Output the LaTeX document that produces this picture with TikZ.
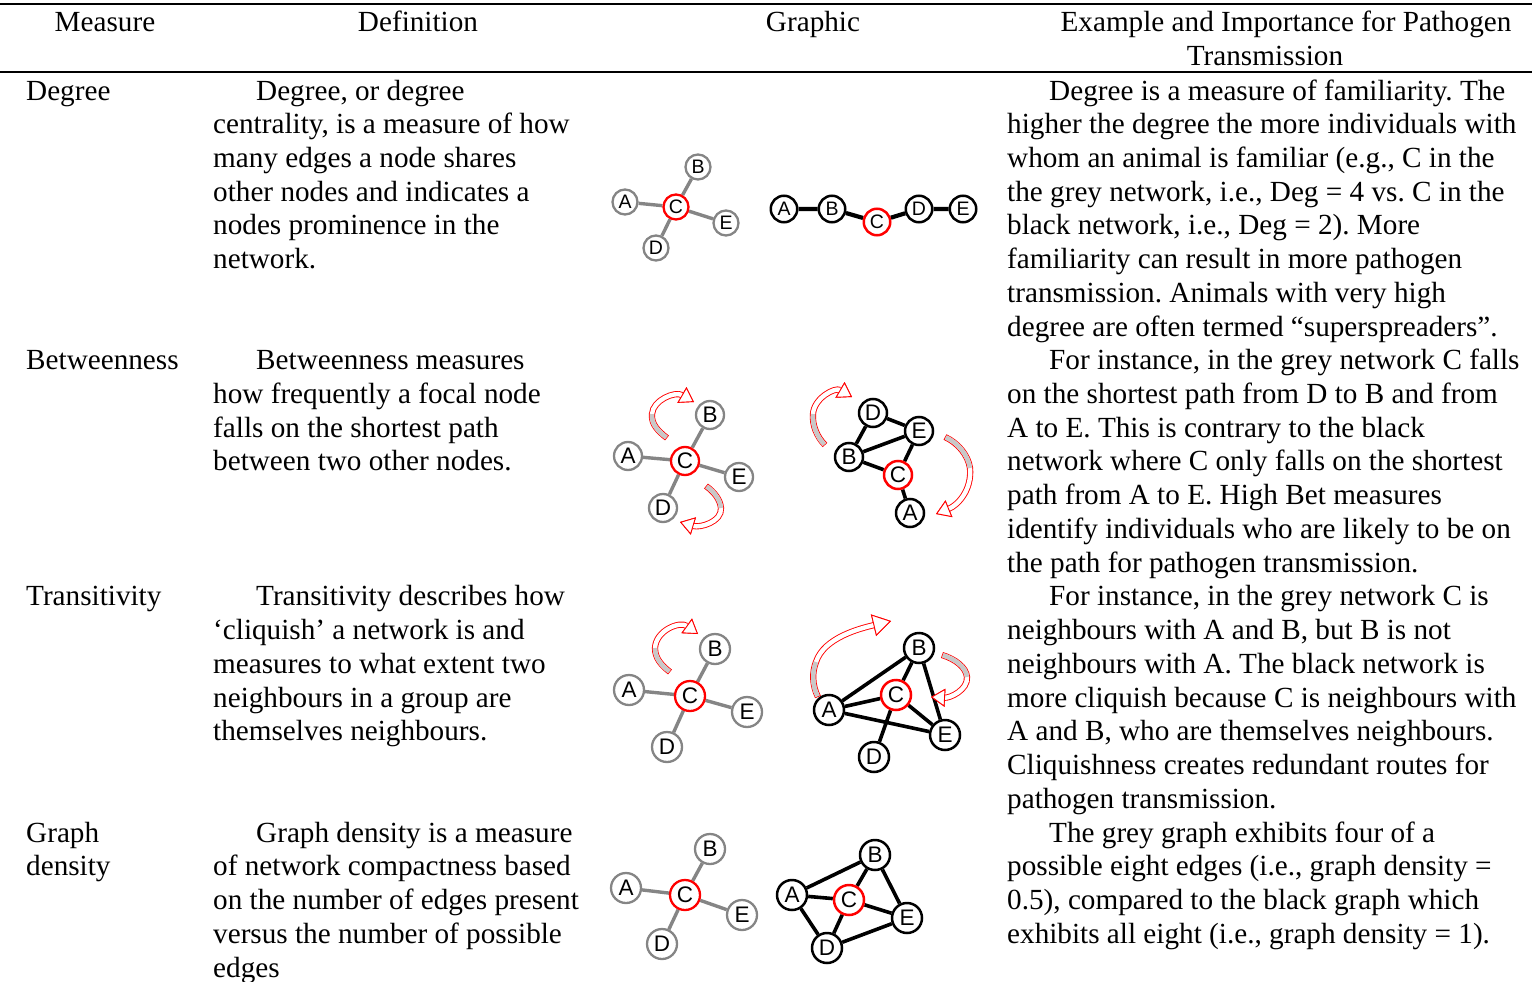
\documentclass[tikz,border=0pt]{standalone}
\usepackage{fontspec}
\setmainfont{Liberation Serif}
\newfontfamily\labelfont{Liberation Sans}
\usetikzlibrary{arrows.meta}
\definecolor{netgrey}{HTML}{858585}
\definecolor{tailgrey}{HTML}{C8C8C8}
\pgfdeclarelayer{edges}
\pgfsetlayers{edges,main}
\frenchspacing
\tikzset{
  body/.style={inner sep=0pt, font=\fontsize{29.2pt}{33.73pt}\selectfont},
  cell/.style={body, anchor=base west},
  head/.style={body, anchor=base},
  rule/.style={line width=2pt},
  vtx/.style={circle, fill=white, inner sep=0pt},
  gv/.style={vtx, draw=netgrey, line width=2.3pt},
  kv/.style={vtx, draw=black, line width=2.5pt},
  cv/.style={draw=red},
  ge/.style={netgrey, line width=3.4pt},
  ke/.style={black, line width=3.6pt},
  smallv/.style={minimum size=#1, font=\labelfont\fontsize{19.5pt}{19.5pt}\selectfont},
  largev/.style={minimum size=#1, font=\labelfont\fontsize{22.5pt}{22.5pt}\selectfont},
  headS/.tip={Triangle[length=14pt, width=18pt, fill=white, color=red, line width=0.9pt]},
  headL/.tip={Triangle[length=18pt, width=22pt, fill=white, color=red, line width=0.9pt]},
  bandout/.style={red, line width=6.2pt},
  bandin/.style={white, line width=4.4pt, shorten <=0.9pt},
  bandtail/.style={tailgrey, line width=4.4pt, shorten <=0.9pt},
}
\newcommand\linebox[1]{\parbox[t]{620pt}{#1}}
\begin{document}
\begin{tikzpicture}[x=1pt, y=-1pt]
\useasboundingbox (0,0) rectangle (1532,982);

% ---------- rules ----------
\coordinate (r1l) at (0,4.5);   \coordinate (r1r) at (1532,4.5);
\coordinate (r2l) at (0,72);    \coordinate (r2r) at (1532,72);
\draw[rule] (r1l) -- (r1r);
\draw[rule] (r2l) -- (r2r);

% ---------- header ----------
\node[head] (hmeas) at (105,31.7) {Measure};
\node[head] (hdef)  at (418,31.7) {Definition};
\node[head] (hgra)  at (813,31.7) {Graphic};
\node[head] (hex1)  at (1286,31.7) {Example and Importance for Pathogen};
\node[head] (hex2)  at (1265,65.4) {Transmission};

% ---------- measure column ----------
\node[cell] (m1) at (26,100) {Degree};
\node[cell] (m2) at (26,369.8) {Betweenness};
\node[cell] (m3) at (26,605.9) {Transitivity};
\node[cell] (m4) at (26,842.1) {\linebox{Graph\\density}};

% ---------- definition column ----------
\node[cell] (d1) at (213,100) {\linebox{\hspace*{43pt}Degree, or degree\\centrality, is a measure of how\\many edges a node shares\\other nodes and indicates a\\nodes prominence in the\\network.}};
\node[cell] (d2) at (213,369.8) {\linebox{\hspace*{43pt}Betweenness measures\\how frequently a focal node\\falls on the shortest path\\between two other nodes.}};
\node[cell] (d3) at (213,605.9) {\linebox{\hspace*{43pt}Transitivity describes how\\‘cliquish’ a network is and\\measures to what extent two\\neighbours in a group are\\themselves neighbours.}};
\node[cell] (d4) at (213,842.1) {\linebox{\hspace*{43pt}Graph density is a measure\\of network compactness based\\on the number of edges present\\versus the number of possible\\edges}};

% ---------- example column ----------
\node[cell] (e1) at (1007,100) {\linebox{\hspace*{42pt}Degree is a measure of familiarity. The\\higher the degree the more individuals with\\whom an animal is familiar (e.g., C in the\\the grey network, i.e., Deg = 4 vs. C in the\\black network, i.e., Deg = 2). More\\familiarity can result in more pathogen\\transmission. Animals with very high\\degree are often termed “superspreaders”.}};
\node[cell] (e2) at (1007,369.8) {\linebox{\hspace*{42pt}For instance, in the grey network C falls\\on the shortest path from D to B and from\\A to E. This is contrary to the black\\network where C only falls on the shortest\\path from A to E. High Bet measures\\identify individuals who are likely to be on\\the path for pathogen transmission.}};
\node[cell] (e3) at (1007,605.9) {\linebox{\hspace*{42pt}For instance, in the grey network C is\\neighbours with A and B, but B is not\\neighbours with A. The black network is\\more cliquish because C is neighbours with\\A and B, who are themselves neighbours.\\Cliquishness creates redundant routes for\\pathogen transmission.}};
\node[cell] (e4) at (1007,842.1) {\linebox{\hspace*{42pt}The grey graph exhibits four of a\\possible eight edges (i.e., graph density =\\0.5), compared to the black graph which\\exhibits all eight (i.e., graph density = 1).}};

% ---------- row 1: degree ----------
\begin{scope}[every node/.append style={smallv=25pt}]
  \node[gv] (g1a) at (625,202) {A};
  \node[gv] (g1b) at (698,167) {B};
  \node[gv,cv] (g1c) at (676,207) {C};
  \node[gv] (g1d) at (656,248) {D};
  \node[gv] (g1e) at (726,223) {E};
\end{scope}
\begin{scope}[every node/.append style={smallv=26.5pt}]
  \node[kv] (k1a) at (784,209) {A};
  \node[kv] (k1b) at (832,209) {B};
  \node[kv,cv] (k1c) at (877,222) {C};
  \node[kv] (k1d) at (919,209) {D};
  \node[kv] (k1e) at (963,209) {E};
\end{scope}
\begin{pgfonlayer}{edges}
  \draw[ge] (g1c) -- (g1a) (g1c) -- (g1b) (g1c) -- (g1d) (g1c) -- (g1e);
  \draw[ke, line width=4.2pt] (k1a) -- (k1b) -- (k1c) -- (k1d) -- (k1e);
\end{pgfonlayer}

% ---------- row 2: betweenness ----------
\begin{scope}[every node/.append style={largev=28pt}]
  \node[gv] (g2a) at (628,456) {A};
  \node[gv] (g2b) at (710,415) {B};
  \node[gv,cv] (g2c) at (685,461) {C};
  \node[gv] (g2d) at (663,508) {D};
  \node[gv] (g2e) at (739,477) {E};
  \node[kv] (k2d) at (873,413) {D};
  \node[kv] (k2e) at (919,431) {E};
  \node[kv] (k2b) at (849,457) {B};
  \node[kv,cv] (k2c) at (898,475) {C};
  \node[kv] (k2a) at (910,513) {A};
\end{scope}
\begin{pgfonlayer}{edges}
  \draw[ge] (g2c) -- (g2a) (g2c) -- (g2b) (g2c) -- (g2d) (g2c) -- (g2e);
  \draw[ke] (k2d) -- (k2e) (k2d) -- (k2b) (k2b) -- (k2e) (k2b) -- (k2c) (k2c) -- (k2e) (k2c) -- (k2a);
\end{pgfonlayer}
% curved arrows, grey network
\draw[bandout, -{headS}] (667,438) .. controls (658,431) and (651,424) .. (652,414) .. controls (653,400) and (675,391) .. (694,402);
\draw[bandin, -{headS}] (667,438) .. controls (658,431) and (651,424) .. (652,414) .. controls (653,400) and (675,391) .. (694,402);
\draw[bandtail] (667,438) .. controls (658,431) and (651,424) .. (652,414);
\draw[bandout, -{headS}] (706,486) .. controls (714,492) and (720,499) .. (721,508) .. controls (722,522) and (700,528) .. (680,522);
\draw[bandin, -{headS}] (706,486) .. controls (714,492) and (720,499) .. (721,508) .. controls (722,522) and (700,528) .. (680,522);
\draw[bandtail] (706,486) .. controls (714,492) and (720,499) .. (721,508);
% curved arrows, black network
\draw[bandout, -{headS}] (825,445) .. controls (817,437) and (812,425) .. (813,414) .. controls (814,398) and (835,387) .. (852,397);
\draw[bandin, -{headS}] (825,445) .. controls (817,437) and (812,425) .. (813,414) .. controls (814,398) and (835,387) .. (852,397);
\draw[bandtail] (825,445) .. controls (817,437) and (812,425) .. (813,414);
\draw[bandout, -{headS}] (945,437) .. controls (958,443) and (968,455) .. (970,468) .. controls (972,490) and (958,505) .. (936,514);
\draw[bandin, -{headS}] (945,437) .. controls (958,443) and (968,455) .. (970,468) .. controls (972,490) and (958,505) .. (936,514);
\draw[bandtail] (945,437) .. controls (958,443) and (968,455) .. (970,468);

% ---------- row 3: transitivity ----------
\begin{scope}[every node/.append style={largev=30pt}]
  \node[gv] (g3a) at (629,690) {A};
  \node[gv] (g3b) at (715,649) {B};
  \node[gv,cv] (g3c) at (690,696) {C};
  \node[gv] (g3d) at (667,747) {D};
  \node[gv] (g3e) at (747,712) {E};
  \node[kv] (k3b) at (919,648) {B};
  \node[kv,cv] (k3c) at (896,695) {C};
  \node[kv] (k3a) at (829,710) {A};
  \node[kv] (k3e) at (945,735) {E};
  \node[kv] (k3d) at (874,757) {D};
\end{scope}
\begin{pgfonlayer}{edges}
  \draw[ge] (g3c) -- (g3a) (g3c) -- (g3b) (g3c) -- (g3d) (g3c) -- (g3e);
  \draw[ke] (k3a) -- (k3b) (k3a) -- (k3c) (k3a) -- (k3e) (k3b) -- (k3c) (k3b) -- (k3e) (k3c) -- (k3e) (k3c) -- (k3d);
\end{pgfonlayer}
\draw[bandout, -{headS}] (670,672) .. controls (661,665) and (655,658) .. (655,648) .. controls (656,630) and (680,621) .. (698,634);
\draw[bandin, -{headS}] (670,672) .. controls (661,665) and (655,658) .. (655,648) .. controls (656,630) and (680,621) .. (698,634);
\draw[bandtail] (670,672) .. controls (661,665) and (655,658) .. (655,648);
\draw[bandout, -{headL}] (818,697) .. controls (812,685) and (812,672) .. (816,662) .. controls (824,637) and (862,628) .. (891,621);
\draw[bandin, -{headL}] (818,697) .. controls (812,685) and (812,672) .. (816,662) .. controls (824,637) and (862,628) .. (891,621);
\draw[bandtail] (818,697) .. controls (812,685) and (812,672) .. (816,662);
\draw[bandout, -{headS}] (942,655) .. controls (955,659) and (966,667) .. (967,677) .. controls (968,690) and (950,698) .. (931,697);
\draw[bandin, -{headS}] (942,655) .. controls (955,659) and (966,667) .. (967,677) .. controls (968,690) and (950,698) .. (931,697);
\draw[bandtail] (942,655) .. controls (955,659) and (966,667) .. (967,677);

% ---------- row 4: graph density ----------
\begin{scope}[every node/.append style={largev=30pt}]
  \node[gv] (g4a) at (626,888) {A};
  \node[gv] (g4b) at (710,849) {B};
  \node[gv,cv] (g4c) at (685,895) {C};
  \node[gv] (g4d) at (662,944) {D};
  \node[gv] (g4e) at (742,915) {E};
  \node[kv] (k4a) at (792,895) {A};
  \node[kv] (k4b) at (875,855) {B};
  \node[kv,cv] (k4c) at (849,900) {C};
  \node[kv] (k4e) at (907,918) {E};
  \node[kv] (k4d) at (827,948) {D};
\end{scope}
\begin{pgfonlayer}{edges}
  \draw[ge] (g4c) -- (g4a) (g4c) -- (g4b) (g4c) -- (g4d) (g4c) -- (g4e);
  \draw[ke] (k4a) -- (k4b) (k4a) -- (k4c) (k4a) -- (k4d) (k4b) -- (k4c) (k4b) -- (k4e) (k4c) -- (k4e) (k4c) -- (k4d) (k4d) -- (k4e);
\end{pgfonlayer}
\end{tikzpicture}
\end{document}
